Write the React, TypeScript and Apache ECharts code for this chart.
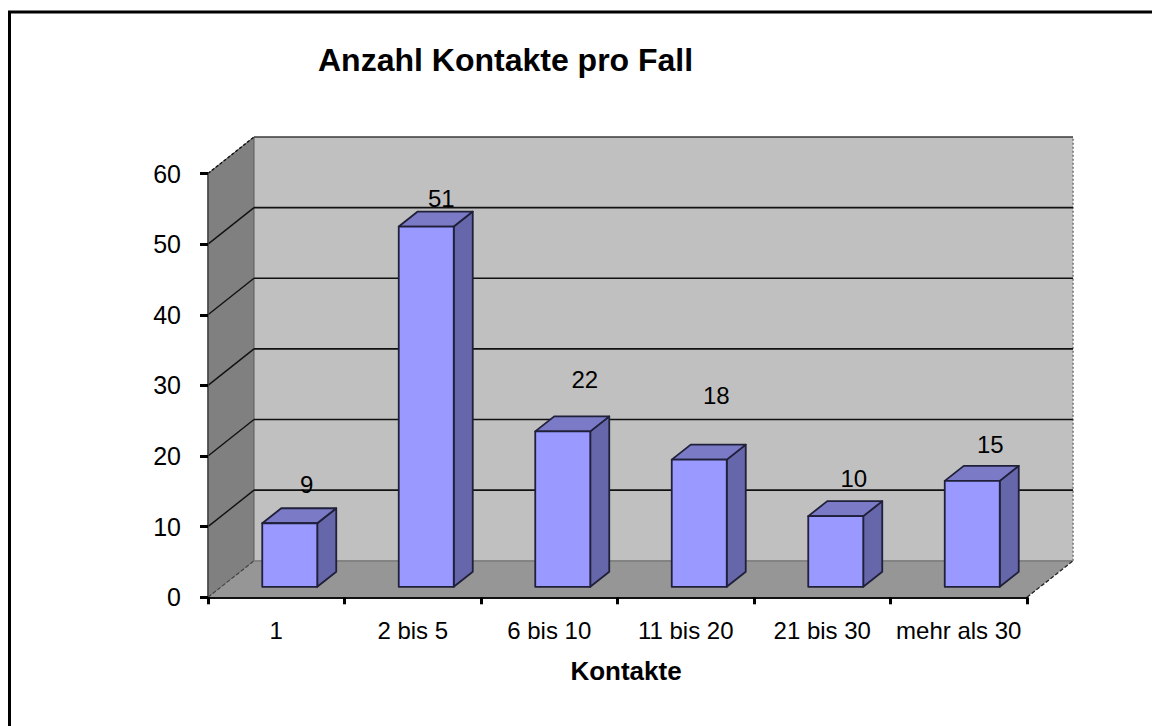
import React, { useEffect, useRef } from "react";
import * as echarts from "echarts";

const categories = ["1", "2 bis 5", "6 bis 10", "11 bis 20", "21 bis 30", "mehr als 30"];
const contactCounts = [9, 51, 22, 18, 10, 15];
const yTicks = [0, 10, 20, 30, 40, 50, 60];
const chartTitle = "Anzahl Kontakte pro Fall";
const xAxisTitle = "Kontakte";

// Offset of each value label from the top centre of its bar's front face
const labelDx = [17, 15, 22, 17, 18, 18];
const labelDy = [-39, -28, -52, -64, -38, -36];

// Pseudo-3D projection (pixels)
const DEPTH_X = 46;
const DEPTH_Y = -36.5;
const GAP_X = 13.5;
const GAP_Y = -10.5;
const BAR_DX = 19;
const BAR_DY = -15;
const BAR_RATIO = 0.403;

const FONT = "'Liberation Sans', Arial, sans-serif";

function renderWalls(params: any, api: any) {
  if (params.dataIndex !== 0) return null;
  const n = categories.length;
  const band = api.size([1, 0])[0];
  const [firstX, y0] = api.coord([0, 0]);
  const [lastX, y1] = api.coord([n - 1, 60]);
  const x0 = firstX - band / 2;
  const x1 = lastX + band / 2;
  const bx = DEPTH_X;
  const by = DEPTH_Y;
  const children: any[] = [
    {
      type: "polygon",
      shape: { points: [[x0 + bx, y0 + by], [x1 + bx, y0 + by], [x1 + bx, y1 + by], [x0 + bx, y1 + by]] },
      style: { fill: "#c0c0c0" },
    },
    {
      type: "polygon",
      shape: { points: [[x0, y0], [x0 + bx, y0 + by], [x0 + bx, y1 + by], [x0, y1]] },
      style: { fill: "#808080", stroke: "#5a5a5a", lineWidth: 1 },
    },
    {
      type: "polygon",
      shape: { points: [[x0, y0], [x0 + bx, y0 + by], [x1 + bx, y0 + by], [x1, y0]] },
      style: { fill: "#969696" },
    },
    {
      type: "line",
      shape: { x1: x0 + bx, y1: y0 + by, x2: x1 + bx, y2: y0 + by },
      style: { stroke: "#6e6e6e", lineWidth: 1.2 },
    },
    {
      type: "line",
      shape: { x1: x1 + bx, y1: y0 + by, x2: x1 + bx, y2: y1 + by },
      style: { stroke: "#8a8a8a", lineWidth: 2, lineDash: [2, 2] },
    },
    {
      type: "line",
      shape: { x1: x1, y1: y0, x2: x1 + bx, y2: y0 + by },
      style: { stroke: "#222", lineWidth: 1.3, lineDash: [4, 2] },
    },
    {
      type: "line",
      shape: { x1: x0, y1: y0, x2: x0 + bx, y2: y0 + by },
      style: { stroke: "#444", lineWidth: 1.2, lineDash: [4, 2] },
    },
  ];
  yTicks.slice(1).forEach((v) => {
    const [, y] = api.coord([0, v]);
    const top = v === 60;
    children.push({
      type: "line",
      shape: { x1: x0 + bx, y1: y + by, x2: x1 + bx, y2: y + by },
      style: { stroke: top ? "#3a3a3a" : "#111", lineWidth: 1.6 },
    });
    children.push({
      type: "line",
      shape: { x1: x0, y1: y, x2: x0 + bx, y2: y + by },
      style: { stroke: "#111", lineWidth: 1.4, lineDash: top ? [3, 2] : undefined },
    });
  });
  return { type: "group", children };
}

function renderBar(params: any, api: any) {
  const i = api.value(0);
  const v = api.value(1);
  const [cx, yBase] = api.coord([i, 0]);
  const [, yTop] = api.coord([i, v]);
  const w = api.size([1, 0])[0] * BAR_RATIO;
  const l = cx - w / 2 + GAP_X;
  const r = cx + w / 2 + GAP_X;
  const t = yTop + GAP_Y;
  const b = yBase + GAP_Y;
  const edge = { stroke: "#20203a", lineWidth: 1.8, lineJoin: "round" };
  return {
    type: "group",
    children: [
      {
        type: "polygon",
        shape: { points: [[r, b], [r + BAR_DX, b + BAR_DY], [r + BAR_DX, t + BAR_DY], [r, t]] },
        style: { fill: "#6666aa", ...edge },
      },
      {
        type: "polygon",
        shape: { points: [[l, t], [r, t], [r + BAR_DX, t + BAR_DY], [l + BAR_DX, t + BAR_DY]] },
        style: { fill: "#7a7ac6", ...edge },
      },
      {
        type: "polygon",
        shape: { points: [[l, t], [r, t], [r, b], [l, b]] },
        style: { fill: "#9999ff", ...edge },
      },
      {
        type: "text",
        style: {
          x: (l + r) / 2 + labelDx[i],
          y: t + labelDy[i],
          text: String(v),
          fill: "#000",
          font: `24px ${FONT}`,
          align: "center",
          verticalAlign: "middle",
        },
      },
    ],
  };
}

export default function App() {
  const ref = useRef<HTMLDivElement>(null);
  useEffect(() => {
    const chart = echarts.init(ref.current!, undefined, { renderer: "svg" });
    chart.setOption({
      animation: false,
      backgroundColor: "#ffffff",
      title: {
        text: chartTitle,
        left: 318,
        top: 44,
        padding: 0,
        textStyle: { fontFamily: FONT, fontSize: 32, fontWeight: "bold", color: "#000" },
      },
      grid: { left: 208, right: 125, top: 173.5, bottom: 128.7 },
      xAxis: {
        type: "category",
        data: categories,
        z: 5,
        name: xAxisTitle,
        nameLocation: "middle",
        nameGap: 61,
        nameTextStyle: {
          fontFamily: FONT,
          fontSize: 26,
          fontWeight: "bold",
          color: "#000",
          padding: [0, 0, 0, 17],
        },
        axisLine: { show: true, lineStyle: { color: "#111", width: 2 } },
        axisTick: { show: true, length: 7, lineStyle: { color: "#000", width: 3 } },
        axisLabel: { interval: 0, margin: 21, fontFamily: FONT, fontSize: 24, color: "#000" },
        splitLine: { show: false },
      },
      yAxis: {
        type: "value",
        min: 0,
        max: 60,
        interval: 10,
        z: 5,
        axisLine: { show: true, lineStyle: { color: "#444", width: 1.5 } },
        axisTick: { show: true, length: 8, lineStyle: { color: "#000", width: 3 } },
        axisLabel: { margin: 27, fontFamily: FONT, fontSize: 25, color: "#000", padding: [0, 0, 4, 0] },
        splitLine: { show: false },
      },
      series: [
        {
          type: "custom",
          silent: true,
          clip: false,
          z: 1,
          renderItem: renderWalls,
          data: [[0, 0]],
        },
        {
          type: "custom",
          silent: true,
          clip: false,
          z: 2,
          renderItem: renderBar,
          encode: { x: 0, y: 1 },
          data: contactCounts.map((v, i) => [i, v]),
        },
      ],
      graphic: [
        { type: "line", shape: { x1: 9.5, y1: 12, x2: 9.5, y2: 726 }, style: { stroke: "#000", lineWidth: 3 } },
        { type: "line", shape: { x1: 8, y1: 12, x2: 1152, y2: 12 }, style: { stroke: "#000", lineWidth: 3 } },
      ],
    });
    return () => chart.dispose();
  }, []);
  return <div ref={ref} style={{ position: "absolute", left: 0, top: 0, width: 1152, height: 726 }} />;
}
